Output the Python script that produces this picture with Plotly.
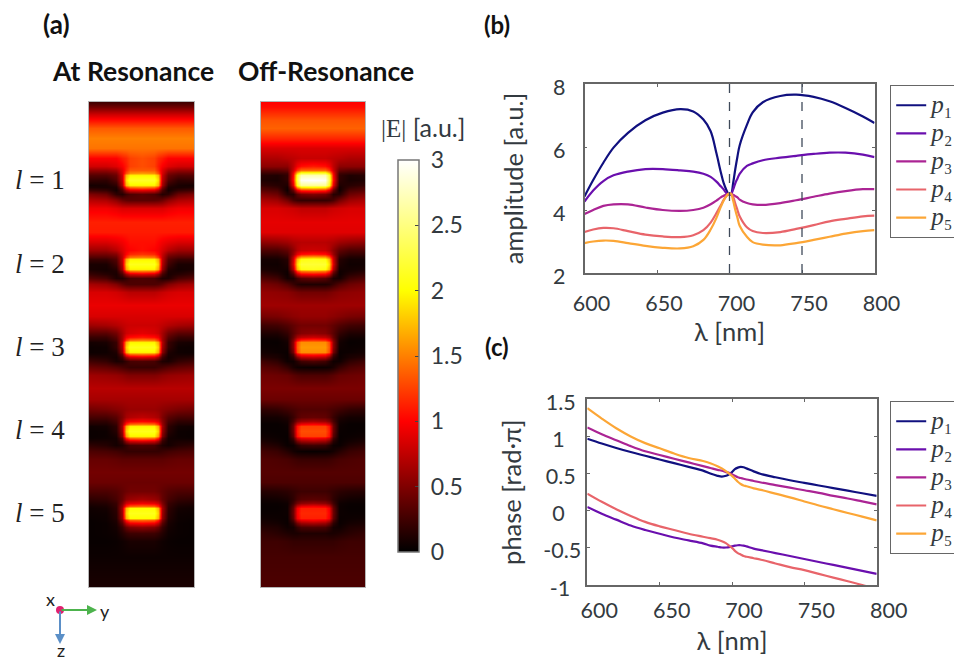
import plotly.graph_objects as go

W, H = 954, 662
def px(x): return x / W
def py(y): return 1 - y / H

# ---------- spectra ----------
lam_amp = [600,606,613,620,630,642,654,666,675,682,687,691,694,696,698,699.5,701,702.5,704,705.5,707,712,716,723,735,746,758,769,780,792,800]
amp_p1 = [4.43,4.95,5.5,5.98,6.45,6.85,7.09,7.2,7.13,6.87,6.5,5.8,5.2,4.85,4.62,4.5,4.5,4.85,5.3,5.7,6.05,6.7,7.1,7.42,7.62,7.66,7.59,7.45,7.24,6.97,6.76]
amp_p2 = [4.27,4.62,4.92,5.1,5.22,5.3,5.3,5.26,5.22,5.15,5.05,4.9,4.75,4.65,4.53,4.5,4.5,4.65,4.85,5.0,5.15,5.4,5.48,5.58,5.66,5.72,5.78,5.82,5.82,5.76,5.68]
amp_p3 = [3.87,4.0,4.13,4.18,4.18,4.08,4.0,3.97,4.0,4.07,4.18,4.3,4.4,4.45,4.5,4.5,4.5,4.48,4.44,4.4,4.33,4.22,4.18,4.16,4.22,4.31,4.42,4.52,4.6,4.66,4.66]
amp_p4 = [3.3,3.38,3.43,3.42,3.33,3.22,3.16,3.14,3.2,3.36,3.6,3.9,4.15,4.32,4.45,4.5,4.52,4.42,4.2,4.0,3.8,3.45,3.33,3.27,3.3,3.4,3.52,3.64,3.72,3.8,3.82]
amp_p5 = [2.95,3.0,3.03,3.02,2.95,2.86,2.8,2.78,2.85,3.05,3.38,3.75,4.1,4.3,4.45,4.52,4.52,4.3,4.0,3.75,3.5,3.15,2.98,2.9,2.88,2.95,3.05,3.15,3.25,3.33,3.36]

lam_phase = [600,610,620,630,640,650,660,670,680,685,690,693,696,698,700,702,704,706,708,710,715,720,730,740,750,760,770,780,790,800]
ph_p1 = [.97,.905,.845,.79,.74,.69,.64,.59,.54,.5,.47,.46,.47,.49,.52,.56,.58,.59,.585,.57,.53,.495,.45,.41,.375,.34,.305,.27,.235,.2]
ph_p2 = [.05,-.04,-.12,-.2,-.26,-.31,-.36,-.4,-.44,-.47,-.485,-.495,-.495,-.49,-.48,-.47,-.465,-.465,-.47,-.48,-.51,-.53,-.57,-.61,-.65,-.69,-.73,-.77,-.81,-.85]
ph_p3 = [1.12,1.03,.95,.87,.8,.75,.7,.65,.6,.575,.55,.54,.52,.51,.49,.47,.45,.44,.43,.42,.4,.38,.345,.31,.275,.24,.2,.165,.125,.085]
ph_p4 = [.23,.12,.02,-.07,-.15,-.21,-.26,-.31,-.35,-.37,-.39,-.41,-.44,-.47,-.5,-.54,-.57,-.59,-.61,-.62,-.64,-.66,-.71,-.76,-.8,-.85,-.9,-.95,-1.0,-1.06]
ph_p5 = [1.38,1.24,1.11,1.0,.91,.84,.77,.71,.67,.64,.6,.57,.53,.5,.47,.43,.39,.36,.34,.33,.3,.28,.23,.18,.125,.07,.02,-.03,-.08,-.13]

names = ["<span style='font-size:25px'><i>p</i>\u2081</span>","<span style='font-size:25px'><i>p</i>\u2082</span>","<span style='font-size:25px'><i>p</i>\u2083</span>","<span style='font-size:25px'><i>p</i>\u2084</span>","<span style='font-size:25px'><i>p</i>\u2085</span>"]
colors = ["#10107f","#6a0fae","#ab2494","#e8646a","#fca636"]
amp_ticks_x = [600,650,700,750,800]
marked_lam = [700,750]
l_labels = ["<i>l</i> = 1","<i>l</i> = 2","<i>l</i> = 3","<i>l</i> = 4","<i>l</i> = 5"]
l_y = [180,264,347,430,513]

# ---------- field maps (half rows: centre -> edge) ----------
col_offset = [0,12,16,20,26,36,52.5]
depth = [0,5,12,18,26,36,46, 56,64,68,71,73,78,83,85,88,92,98,106,
         120,130,140,148,152,155,157,162,167,169,172,176,182,190,
         203,214,223,231,235,238,240,245,250,252,255,259,265,273,
         286,297,307,315,319,322,324,329,334,336,339,343,349,357,
         370,380,389,397,401,404,406,411,416,418,421,425,431,439,455,485]

field_on = [
[.25,.25,.25,.25,.25,.25,.25],[.45,.45,.45,.45,.45,.45,.45],[.8,.8,.8,.8,.8,.8,.8],[1.05,1.05,1.05,1.05,1.05,1.05,1.05],
[1.35,1.35,1.35,1.35,1.35,1.35,1.35],[1.5,1.5,1.5,1.5,1.5,1.5,1.5],[1.45,1.45,1.45,1.45,1.45,1.45,1.45],
[1.3,1.25,1.15,1.1,1.0,1.0,1.0],[1.3,1.25,1.1,.98,.88,.82,.82],[1.35,1.35,1.15,.88,.65,.58,.58],[1.6,1.55,1.3,.85,.5,.42,.42],
[1.95,1.95,1.7,.8,.42,.33,.33],[2.15,2.15,1.85,.75,.32,.18,.2],[1.95,1.95,1.7,.65,.18,.1,.08],[1.5,1.45,1.2,.5,.12,.1,.12],
[.9,.85,.65,.3,.08,.2,.25],[.35,.3,.24,.14,.18,.42,.5],[.35,.35,.37,.42,.55,.68,.72],[.85,.85,.85,.85,.9,.95,.95],
[1.12,1.12,1.12,1.12,1.12,1.12,1.12],[1.1,1.1,1.1,1.1,1.1,1.1,1.1],[1.05,1.05,1,.95,.9,.85,.85],[1.05,1.0,.95,.85,.72,.62,.62],
[1.2,1.15,1.0,.78,.52,.45,.45],[1.5,1.45,1.2,.75,.4,.32,.32],[1.95,1.95,1.65,.75,.33,.22,.22],[2.1,2.1,1.8,.7,.25,.1,.1],
[1.95,1.95,1.65,.6,.15,.08,.1],[1.45,1.4,1.15,.45,.12,.1,.15],[.85,.8,.6,.28,.1,.15,.22],[.3,.28,.2,.12,.12,.28,.35],
[.3,.3,.32,.38,.5,.6,.65],[.72,.72,.75,.78,.82,.85,.85],
[.92,.92,.92,.92,.92,.92,.92],[.85,.85,.85,.85,.85,.85,.85],[.8,.8,.78,.75,.7,.65,.62],[.9,.85,.8,.65,.45,.35,.35],
[1.1,1.05,.95,.65,.35,.22,.22],[1.5,1.45,1.2,.65,.28,.15,.15],[1.95,1.95,1.65,.7,.22,.1,.08],[2.1,2.1,1.8,.65,.2,.06,.05],
[1.95,1.95,1.65,.55,.12,.06,.05],[1.45,1.4,1.15,.4,.1,.08,.08],[.85,.8,.6,.25,.08,.12,.15],[.3,.28,.2,.12,.1,.2,.25],
[.22,.22,.25,.28,.33,.38,.42],[.5,.5,.52,.55,.58,.6,.62],
[.72,.72,.72,.72,.72,.72,.72],[.65,.65,.65,.65,.65,.65,.65],[.6,.6,.58,.55,.52,.48,.45],[.75,.7,.65,.5,.35,.28,.28],
[1.0,.95,.85,.55,.28,.18,.18],[1.45,1.4,1.15,.6,.22,.12,.12],[1.95,1.95,1.65,.65,.18,.08,.06],[2.1,2.1,1.8,.6,.15,.05,.04],
[1.95,1.95,1.6,.5,.1,.05,.04],[1.45,1.4,1.1,.35,.08,.06,.05],[.85,.8,.6,.22,.08,.1,.1],[.3,.28,.2,.12,.08,.14,.18],
[.2,.2,.2,.22,.25,.28,.3],[.36,.36,.36,.36,.38,.4,.4],
[.45,.45,.45,.45,.45,.45,.45],[.42,.42,.42,.42,.42,.42,.42],[.45,.45,.42,.38,.33,.3,.3],[.65,.6,.55,.4,.28,.2,.18],
[.95,.9,.8,.5,.22,.14,.12],[1.4,1.35,1.15,.6,.2,.1,.08],[2,2,1.7,.65,.18,.08,.06],[2.1,2.1,1.8,.62,.16,.06,.05],
[2,2,1.7,.58,.14,.05,.04],[1.4,1.35,1.1,.48,.12,.05,.03],[1.0,.95,.75,.35,.1,.04,.03],[.55,.5,.4,.22,.08,.04,.03],
[.25,.24,.2,.14,.06,.04,.03],[.1,.1,.08,.06,.04,.03,.03],[.05,.05,.05,.05,.05,.05,.05],[.1,.1,.1,.1,.1,.1,.1],
]
field_off = [
[1.0,1.0,1.0,1.0,1.0,1.0,1.0],[1.05,1.05,1.05,1.05,1.05,1.05,1.05],[1.2,1.2,1.2,1.2,1.2,1.2,1.2],[1.32,1.32,1.32,1.32,1.32,1.32,1.32],
[1.38,1.38,1.38,1.38,1.38,1.38,1.38],[1.15,1.15,1.15,1.15,1.15,1.15,1.15],[.85,.85,.85,.85,.85,.85,.85],
[.78,.78,.76,.74,.72,.68,.68],[1.1,1.05,.95,.75,.55,.55,.55],[1.4,1.4,1.2,.8,.4,.35,.35],[2.2,2.2,1.8,.95,.25,.22,.22],
[2.7,2.7,2.2,1.0,.2,.12,.15],[3,2.95,2.3,1.05,.18,.1,.12],[2.6,2.6,2.1,.9,.12,.15,.2],[2.0,1.95,1.6,.7,.08,.2,.28],
[1.2,1.15,.9,.4,.06,.3,.35],[.5,.45,.35,.15,.15,.42,.5],[.2,.2,.22,.28,.45,.62,.68],[.75,.75,.78,.8,.82,.85,.85],
[.9,.9,.9,.9,.9,.9,.9],[.88,.88,.88,.88,.88,.88,.88],[.72,.72,.7,.68,.62,.58,.55],[.8,.78,.7,.55,.38,.3,.3],
[1.1,1.05,.9,.6,.28,.2,.2],[1.7,1.65,1.35,.75,.2,.12,.12],[2.1,2.05,1.7,.8,.15,.08,.08],[2.2,2.2,1.85,.85,.12,.06,.07],
[2.1,2.05,1.7,.7,.08,.08,.1],[1.5,1.45,1.2,.5,.06,.1,.15],[1.0,.95,.75,.3,.05,.15,.22],[.4,.35,.25,.1,.08,.25,.32],
[.12,.12,.15,.22,.32,.42,.48],[.45,.45,.47,.5,.54,.56,.58],
[.62,.62,.62,.62,.62,.62,.62],[.58,.58,.56,.55,.52,.48,.46],[.45,.45,.42,.38,.32,.26,.24],[.55,.52,.45,.35,.2,.12,.12],
[.8,.75,.65,.4,.14,.07,.07],[1.2,1.15,.95,.5,.1,.04,.04],[1.55,1.55,1.3,.55,.08,.03,.04],[1.6,1.6,1.35,.55,.06,.04,.05],
[1.55,1.55,1.3,.45,.04,.05,.08],[1.15,1.1,.9,.3,.04,.08,.1],[.75,.7,.5,.18,.04,.1,.15],[.3,.25,.15,.06,.06,.18,.25],
[.04,.05,.06,.1,.2,.3,.35],[.3,.3,.32,.35,.4,.42,.44],
[.48,.48,.48,.48,.48,.48,.48],[.42,.42,.42,.42,.42,.42,.42],[.32,.32,.3,.28,.25,.2,.18],[.4,.38,.32,.22,.12,.08,.08],
[.65,.6,.5,.28,.08,.05,.05],[1.0,.95,.8,.38,.06,.03,.03],[1.25,1.25,1.05,.42,.05,.03,.03],[1.3,1.3,1.1,.42,.04,.03,.04],
[1.25,1.25,1.05,.35,.03,.04,.06],[.95,.9,.75,.25,.03,.05,.08],[.65,.6,.45,.15,.03,.07,.11],[.25,.22,.14,.05,.04,.12,.17],
[.03,.04,.05,.08,.14,.22,.26],[.22,.22,.23,.25,.28,.3,.32],
[.33,.33,.33,.33,.33,.33,.33],[.3,.3,.3,.3,.3,.3,.3],[.24,.24,.22,.2,.17,.15,.14],[.35,.33,.28,.18,.1,.07,.06],
[.6,.55,.45,.25,.06,.04,.04],[.95,.9,.75,.35,.05,.03,.03],[1.12,1.12,.95,.4,.05,.03,.03],[1.15,1.15,.98,.42,.05,.04,.04],
[1.12,1.12,.95,.38,.04,.05,.06],[.95,.9,.75,.3,.04,.06,.08],[.65,.6,.45,.18,.04,.08,.1],[.3,.28,.2,.08,.06,.12,.14],
[.12,.12,.1,.1,.12,.16,.2],[.2,.2,.2,.2,.22,.24,.24],[.27,.27,.27,.27,.27,.27,.27],[.3,.3,.3,.3,.3,.3,.3],
]

def full_rows(rows):
    return [r[:0:-1] + r for r in rows]
col_pos = [52.5 - c for c in col_offset[:0:-1]] + [52.5 + c for c in col_offset]

SANS = "Lato, Open Sans, sans-serif"
SERIF = "Liberation Serif, serif"
INK = "#333a40"
AX = "#666666"
TITLE = dict(family=SANS, size=25.5, color=INK)

fig = go.Figure()
fig.add_trace(go.Heatmap(x=col_pos, y=depth, z=full_rows(field_on), coloraxis="coloraxis", zsmooth="best", xaxis="x", yaxis="y", showlegend=False))
fig.add_trace(go.Heatmap(x=col_pos, y=depth, z=full_rows(field_off), coloraxis="coloraxis", zsmooth="best", xaxis="x2", yaxis="y2", showlegend=False))

for n, c, a in zip(names, colors, [amp_p1, amp_p2, amp_p3, amp_p4, amp_p5]):
    fig.add_trace(go.Scatter(x=lam_amp, y=a, mode="lines", name=n, line=dict(color=c, width=2.2, shape="spline", smoothing=1), xaxis="x3", yaxis="y3", legend="legend"))
for n, c, a in zip(names, colors, [ph_p1, ph_p2, ph_p3, ph_p4, ph_p5]):
    fig.add_trace(go.Scatter(x=lam_phase, y=a, mode="lines", name=n, line=dict(color=c, width=2.2, shape="spline", smoothing=1), xaxis="x4", yaxis="y4", legend="legend2"))

for m in marked_lam:
    fig.add_shape(type="line", xref="x3", yref="y3", x0=m, x1=m, y0=2, y1=8, line=dict(color="#3f4a5a", width=1.3, dash="dash"))

hidden = dict(showticklabels=False, ticks="", showgrid=False, zeroline=False, showline=True, mirror=True, linecolor="#b5b5b5", linewidth=1)
line_axis = dict(showgrid=False, zeroline=False, showline=True, mirror="ticks", linecolor=AX, linewidth=1.5,
                 ticks="inside", ticklen=3, tickcolor=AX, tickwidth=1, tickfont=dict(family=SANS, size=21.5, color=INK))

fig.update_layout(
    width=W, height=H, autosize=False, paper_bgcolor="white", plot_bgcolor="white",
    margin=dict(l=0, r=0, t=0, b=0, pad=0, autoexpand=False),
    xaxis=dict(domain=[px(89), px(194)], range=[0,105], **hidden),
    yaxis=dict(domain=[py(587), py(102)], range=[485,0], **hidden),
    xaxis2=dict(domain=[px(261), px(365)], range=[0,105], anchor="y2", **hidden),
    yaxis2=dict(domain=[py(587), py(102)], range=[485,0], anchor="x2", **hidden),
    xaxis3=dict(domain=[px(584.5), px(874.5)], range=[600,800], anchor="y3", tickvals=amp_ticks_x, ticklabelshift=7, ticklabelstandoff=10,
                title=dict(text="λ [nm]", font=TITLE, standoff=6), **line_axis),
    yaxis3=dict(domain=[py(273), py(84)], range=[2,8], anchor="x3", tickvals=[2,4,6,8], ticklabelshift=3, ticklabelstandoff=13,
                title=dict(text="amplitude [a.u.]", font=TITLE, standoff=22), **line_axis),
    xaxis4=dict(domain=[px(587.3), px(876.7)], range=[600,800], anchor="y4", tickvals=amp_ticks_x, ticklabelshift=12, ticklabelstandoff=5,
                title=dict(text="λ [nm]", font=TITLE, standoff=11), **line_axis),
    yaxis4=dict(domain=[py(585), py(399.3)], range=[-1,1.5], anchor="x4", tickvals=[-1,-.5,0,.5,1,1.5], ticklabelshift=3,
                ticktext=["-1\u00a0\u00a0","-0.5","0\u00a0\u00a0\u00a0","0.5\u00a0","1\u00a0\u00a0\u00a0","1.5\u00a0"],
                title=dict(text="phase [rad·π]", font=TITLE, standoff=14), **line_axis),
    coloraxis=dict(cmin=0, cmax=3, colorscale=[[0,"#000000"],[1/3,"#ff0000"],[.5,"#ff8000"],[2/3,"#ffff00"],[1,"#ffffff"]],
                   colorbar=dict(x=px(398), xanchor="left", xpad=0, y=py(552), yanchor="bottom", ypad=0,
                                 lenmode="pixels", len=392, thicknessmode="pixels", thickness=21,
                                 outlinecolor="#777777", outlinewidth=1.5,
                                 tickvals=[0,.5,1,1.5,2,2.5,3], ticktext=["\u00a00","\u00a00.5","\u00a01","\u00a01.5","\u00a02","\u00a02.5","\u00a03"],
                                 ticks="inside", ticklen=4, tickcolor="#444444", tickfont=dict(family=SANS, size=23, color=INK))),
    legend=dict(x=px(890), xanchor="left", y=py(85), yanchor="top", borderwidth=1.2, bordercolor=AX, bgcolor="white",
                font=dict(family=SERIF, size=19.3, color=INK), itemwidth=30, tracegroupgap=0),
    legend2=dict(x=px(890), xanchor="left", y=py(401), yanchor="top", borderwidth=1.2, bordercolor=AX, bgcolor="white",
                 font=dict(family=SERIF, size=19.3, color=INK), itemwidth=30, tracegroupgap=0),
)

def text(x, y, t, size=22, family=SANS, color=INK, **kw):
    fig.add_annotation(xref="paper", yref="paper", x=px(x), y=py(y), text=t, showarrow=False,
                       font=dict(family=family, size=size, color=color), xanchor="center", yanchor="middle", **kw)

text(56, 24, "<b>(a)</b>", 26, color="#111111")
text(497, 24, "<b>(b)</b>", 24, color="#111111")
text(497, 346, "<b>(c)</b>", 24, color="#111111")
text(133, 71, "<b>At Resonance</b>", 26.5, color="#111111")
text(326, 71, "<b>Off-Resonance</b>", 26.5, color="#111111")
text(423, 127, "<span style='font-family:Liberation Serif'>|E|</span> [a.u.]", 25)
for t, y in zip(l_labels, l_y):
    text(40, y, t, 27, SERIF, "#222222")

# coordinate triad
ox, oy = 60, 610
fig.add_annotation(xref="paper", yref="paper", x=px(97), y=py(oy), axref="pixel", ayref="pixel", ax=-37, ay=0, text="",
                   showarrow=True, arrowhead=2, arrowsize=1, arrowwidth=2, arrowcolor="#4db34d")
fig.add_annotation(xref="paper", yref="paper", x=px(ox), y=py(644), axref="pixel", ayref="pixel", ax=0, ay=-34, text="",
                   showarrow=True, arrowhead=2, arrowsize=1, arrowwidth=2, arrowcolor="#5b8fc7")
fig.add_shape(type="circle", xref="paper", yref="paper", x0=px(ox-4), x1=px(ox+4), y0=py(oy-4), y1=py(oy+4), fillcolor="#e0206f", line=dict(width=0))
text(50, 599, "x", 18, color="#222222")
text(105, 611, "y", 18, color="#222222")
text(61, 650, "z", 18, color="#222222")

fig.write_html("out.html", config=dict(displayModeBar=False),
               post_script="document.body.style.margin='0';document.documentElement.style.overflow='hidden';")
